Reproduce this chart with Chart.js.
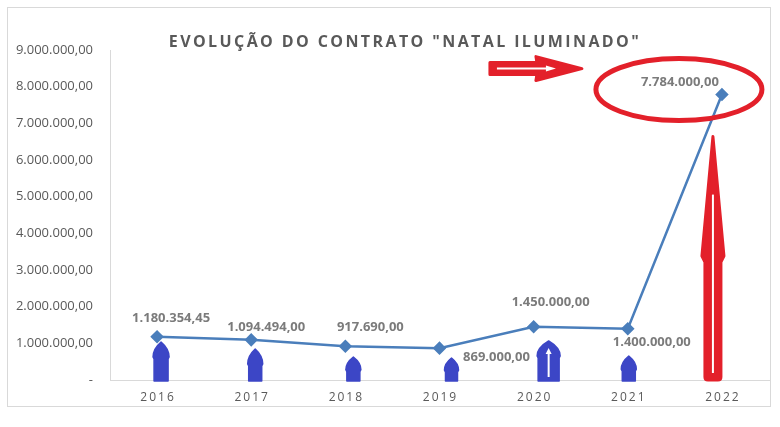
<!DOCTYPE html>
<html>
<head>
<meta charset="utf-8">
<script src="https://cdn.jsdelivr.net/npm/chart.js@4"></script>
<style>
  html, body { margin: 0; padding: 0; background: #fff; }
  canvas { display: block; }
</style>
</head>
<body>
<canvas id="chart" width="780" height="427"></canvas>
<script>
// Data
const years = ['2016', '2017', '2018', '2019', '2020', '2021', '2022'];
const contractValues = [1180354.45, 1094494.00, 917690.00, 869000.00, 1450000.00, 1400000.00, 7784000.00];
const yTicks = [0, 1000000, 2000000, 3000000, 4000000, 5000000, 6000000, 7000000, 8000000, 9000000];

// Where each value label sits relative to its point (px)
const labelOffsets = [[14, -18], [15, -13], [25, -19], [57, 9], [17, -25], [24, 14], [-42, -12]];

// Blue arrows under the first six points: x shift, height, head width
const blueArrows = [[4, 38, 18], [4, 31, 17], [8, 23, 17], [12, 22, 16], [15, 39, 25], [1, 24, 17]];

const TEXT_GREY = '#595959';
const LABEL_GREY = '#7b7b7b';
const LINE_BLUE = '#4a7ebb';
const ARROW_BLUE = '#3c46c6';
const RED = '#e3202a';

function formatBR(value) {
  if (value === 0) return '-';
  const [intPart, dec] = value.toFixed(2).split('.');
  return intPart.replace(/\B(?=(\d{3})+(?!\d))/g, '.') + ',' + dec;
}

function spaced(text) {
  return text.split('').join('\u2009');
}

const frame = {
  id: 'frame',
  beforeDraw(chart) {
    const ctx = chart.ctx;
    ctx.save();
    ctx.strokeStyle = '#d9d9d9';
    ctx.lineWidth = 1;
    ctx.strokeRect(7.5, 7.5, 763, 399);
    ctx.restore();
  }
};

const titlePlugin = {
  id: 'titlePlugin',
  afterDraw(chart) {
    const ctx = chart.ctx;
    ctx.save();
    ctx.font = 'bold 16px "Open Sans"';
    ctx.fillStyle = TEXT_GREY;
    ctx.textAlign = 'center';
    ctx.textBaseline = 'middle';
    if ('letterSpacing' in ctx) ctx.letterSpacing = '2.4px';
    ctx.fillText('EVOLUÇÃO DO CONTRATO "NATAL ILUMINADO"', 405, 42);
    ctx.restore();
  }
};

const valueLabels = {
  id: 'valueLabels',
  afterDatasetsDraw(chart) {
    const ctx = chart.ctx;
    const meta = chart.getDatasetMeta(0);
    ctx.save();
    ctx.font = 'bold 13px "Open Sans"';
    ctx.fillStyle = LABEL_GREY;
    ctx.textAlign = 'center';
    ctx.textBaseline = 'middle';
    meta.data.forEach((pt, i) => {
      const [dx, dy] = labelOffsets[i];
      ctx.fillText(formatBR(contractValues[i]), pt.x + dx, pt.y + dy);
    });
    ctx.restore();
  }
};

// Hand-drawn style markings over the chart
const markings = {
  id: 'markings',
  afterDraw(chart) {
    const ctx = chart.ctx;
    const x = chart.scales.x;
    const base = chart.scales.y.getPixelForValue(0);
    ctx.save();
    ctx.lineJoin = 'round';

    // blue bullet arrows
    blueArrows.forEach(([dx, h, w], i) => {
      const cx = x.getPixelForValue(i) + dx;
      const top = base - h;
      const bottom = base + 1;
      const shaft = w - 4;
      const headBase = top + Math.min(15, h * 0.55);
      const half = w / 2 - 1;
      ctx.fillStyle = ARROW_BLUE;
      ctx.strokeStyle = ARROW_BLUE;
      ctx.lineWidth = 1.5;
      ctx.beginPath();
      ctx.moveTo(cx, top);
      ctx.quadraticCurveTo(cx + half, top + (headBase - top) * 0.45, cx + half, headBase);
      ctx.lineTo(cx + shaft / 2, headBase + 2);
      ctx.lineTo(cx + shaft / 2, bottom);
      ctx.lineTo(cx - shaft / 2, bottom);
      ctx.lineTo(cx - shaft / 2, headBase + 2);
      ctx.lineTo(cx - half, headBase);
      ctx.quadraticCurveTo(cx - half, top + (headBase - top) * 0.45, cx, top);
      ctx.closePath();
      ctx.fill();
      ctx.stroke();
      if (i === 4) {
        // white inner arrow on 2020
        ctx.strokeStyle = '#fff';
        ctx.fillStyle = '#fff';
        ctx.lineWidth = 2;
        ctx.beginPath();
        ctx.moveTo(cx, top + 10);
        ctx.lineTo(cx, bottom - 4);
        ctx.stroke();
        ctx.beginPath();
        ctx.moveTo(cx, top + 7);
        ctx.lineTo(cx - 3, top + 13);
        ctx.lineTo(cx + 3, top + 13);
        ctx.closePath();
        ctx.fill();
      }
    });

    // red vertical arrow at 2022
    const last = chart.getDatasetMeta(0).data[6];
    const rx = x.getPixelForValue(6) - 9;
    const tip = last.y + 42;
    const neck = base - 124;
    ctx.fillStyle = RED;
    ctx.strokeStyle = RED;
    ctx.lineWidth = 3;
    ctx.beginPath();
    ctx.moveTo(rx, tip);
    ctx.lineTo(rx + 11, neck);
    ctx.lineTo(rx + 8, neck + 6);
    ctx.lineTo(rx + 8, base - 3);
    ctx.quadraticCurveTo(rx + 8, base, rx + 5, base);
    ctx.lineTo(rx - 5, base);
    ctx.quadraticCurveTo(rx - 8, base, rx - 8, base - 3);
    ctx.lineTo(rx - 8, neck + 6);
    ctx.lineTo(rx - 11, neck);
    ctx.closePath();
    ctx.fill();
    ctx.stroke();
    ctx.strokeStyle = '#fff';
    ctx.lineWidth = 2;
    ctx.beginPath();
    ctx.moveTo(rx, tip + 58);
    ctx.lineTo(rx, base - 7);
    ctx.stroke();

    // red horizontal arrow pointing at the 2022 label
    const hy = last.y - 26;
    const hx = last.x - 140;
    ctx.fillStyle = RED;
    ctx.strokeStyle = RED;
    ctx.lineWidth = 3;
    ctx.beginPath();
    ctx.moveTo(hx - 92, hy - 6);
    ctx.lineTo(hx - 45, hy - 6);
    ctx.lineTo(hx - 46, hy - 12);
    ctx.lineTo(hx, hy);
    ctx.lineTo(hx - 46, hy + 12);
    ctx.lineTo(hx - 45, hy + 6);
    ctx.lineTo(hx - 92, hy + 6);
    ctx.closePath();
    ctx.fill();
    ctx.stroke();
    ctx.strokeStyle = '#fff';
    ctx.fillStyle = '#fff';
    ctx.lineWidth = 2;
    ctx.beginPath();
    ctx.moveTo(hx - 85, hy);
    ctx.lineTo(hx - 32, hy);
    ctx.stroke();
    ctx.beginPath();
    ctx.moveTo(hx - 26, hy);
    ctx.lineTo(hx - 36, hy - 3);
    ctx.lineTo(hx - 36, hy + 3);
    ctx.closePath();
    ctx.fill();

    // red ellipse around the 2022 value
    ctx.strokeStyle = RED;
    ctx.lineWidth = 5;
    ctx.beginPath();
    ctx.ellipse(last.x - 43, last.y - 5, 83, 31, 0, 0, Math.PI * 2);
    ctx.stroke();

    ctx.restore();
  }
};

new Chart(document.getElementById('chart'), {
  type: 'line',
  data: {
    labels: years,
    datasets: [{
      label: 'Contrato',
      data: contractValues,
      borderColor: LINE_BLUE,
      backgroundColor: LINE_BLUE,
      borderWidth: 2.5,
      pointStyle: 'rectRot',
      pointRadius: 5,
      pointBackgroundColor: LINE_BLUE,
      pointBorderColor: LINE_BLUE,
      tension: 0,
      fill: false
    }]
  },
  options: {
    responsive: false,
    animation: false,
    layout: {
      padding: { top: 50, right: 11, left: 0, bottom: 0 }
    },
    plugins: {
      legend: { display: false },
      title: { display: false },
      tooltip: { enabled: false }
    },
    scales: {
      x: {
        offset: true,
        grid: { display: false, drawTicks: false },
        border: { display: true, color: '#d9d9d9', width: 1 },
        ticks: {
          color: TEXT_GREY,
          font: { family: 'Open Sans', size: 12 },
          padding: 10,
          maxRotation: 0,
          callback: function(value, index) {
            return spaced(years[index]);
          }
        },
        afterFit: function(scale) {
          scale.height = 47;
        }
      },
      y: {
        min: 0,
        max: 9000000,
        grid: { display: false, drawTicks: false },
        border: { display: true, color: '#d9d9d9', width: 1 },
        afterBuildTicks: function(scale) {
          scale.ticks = yTicks.map(v => ({ value: v }));
        },
        ticks: {
          color: TEXT_GREY,
          font: { family: 'Open Sans', size: 13 },
          padding: 17,
          callback: function(value) {
            return formatBR(value);
          }
        },
        afterFit: function(scale) {
          scale.width = 110;
        }
      }
    }
  },
  plugins: [frame, valueLabels, markings, titlePlugin]
});
</script>
</body>
</html>
